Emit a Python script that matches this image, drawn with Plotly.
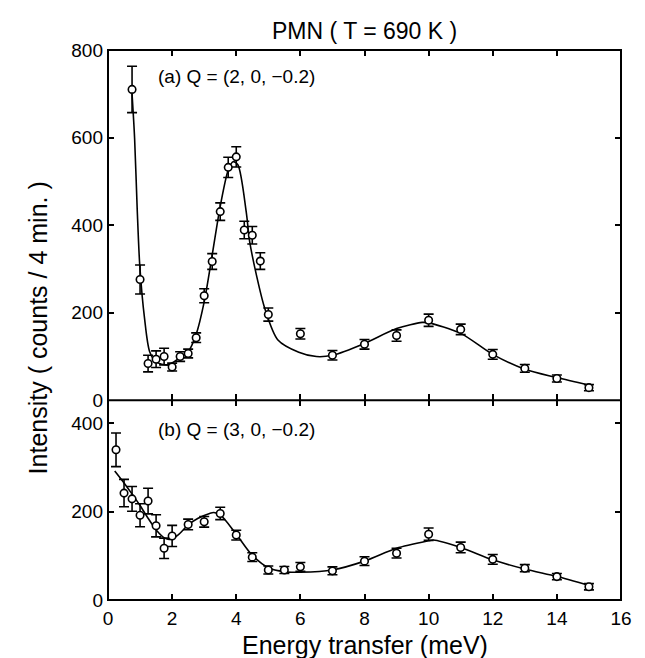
import plotly.graph_objects as go

# ---- data: panel (a) Q = (2, 0, -0.2) ----
a_energy = [0.75, 1.0, 1.25, 1.5, 1.75, 2.0, 2.25, 2.5, 2.75, 3.0, 3.25, 3.5, 3.75, 4.0,
            4.25, 4.5, 4.75, 5.0, 6.0, 7.0, 8.0, 9.0, 10.0, 11.0, 12.0, 13.0, 14.0, 15.0]
a_counts = [710, 276, 84, 94, 100, 76, 100, 107, 143, 239, 317, 431, 532, 556,
            389, 377, 318, 196, 152, 103, 128, 148, 183, 162, 105, 73, 50, 29]
a_err = [53, 33, 19, 19, 19, 9, 11, 10, 11, 16, 18, 20, 23, 23,
         20, 20, 19, 15, 12, 11, 11, 13, 14, 12, 11, 9, 8, 7]
a_fit_x = [0.75, 0.83, 0.91, 0.99, 1.14, 1.3, 1.5, 1.87, 2.25, 2.5, 2.75, 3.0, 3.25, 3.5,
           3.75, 3.9, 4.05, 4.31, 4.42, 4.63, 4.89, 5.3, 5.95, 6.5, 7.0, 8.0, 9.0, 9.8,
           10.0, 11.0, 12.0, 13.0, 14.0, 15.0]
a_fit_y = [700, 598, 438, 309, 187, 111, 88, 81, 98, 111, 151, 225, 332, 443,
           526, 545, 538, 431, 362, 286, 210, 138, 110, 100, 103, 130, 164, 178,
           177, 153, 105, 71, 52, 35]

# ---- data: panel (b) Q = (3, 0, -0.2) ----
b_energy = [0.25, 0.5, 0.75, 1.0, 1.25, 1.5, 1.75, 2.0, 2.5, 3.0, 3.5, 4.0, 4.5,
            5.0, 5.5, 6.0, 7.0, 8.0, 9.0, 10.0, 11.0, 12.0, 13.0, 14.0, 15.0]
b_counts = [340, 242, 229, 192, 224, 168, 117, 145, 171, 177, 196, 147, 97,
            68, 68, 75, 66, 88, 106, 149, 119, 92, 72, 53, 30]
b_err = [38, 31, 28, 26, 29, 25, 23, 24, 12, 12, 14, 11, 10,
         9, 8, 10, 9, 10, 11, 14, 12, 11, 8, 7, 7]
b_fit_x = [0.21, 0.5, 0.73, 0.99, 1.25, 1.51, 1.77, 1.92, 2.18, 2.5, 2.81, 3.17, 3.3,
           3.51, 3.98, 4.49, 5.0, 5.5, 6.0, 7.0, 8.0, 9.0, 10.0, 10.15, 11.0, 12.0,
           13.0, 14.0, 15.0]
b_fit_y = [292, 265, 242, 215, 185, 158, 140, 137, 147, 170, 185, 196, 198,
           192, 151, 102, 73, 64, 63, 68, 88, 117, 134, 136, 119, 91,
           70, 53, 33]

x_ticks = [0, 2, 4, 6, 8, 10, 12, 14, 16]
a_yticks = [0, 200, 400, 600, 800]
b_yticks = [0, 200, 400]

FONT = "Liberation Sans, Arial, Helvetica, sans-serif"
W, H = 645, 658
ML, MR, MT, MB = 100, 32, 41.5, 66.3
H_plot = H - MT - MB
W_plot = W - ML - MR


def px_x(p):
    return (p - ML) / W_plot


def px_y(p):
    return (H - MB - p) / H_plot


fig = go.Figure()


def add_panel(xv, yv, ev, fx, fy, xa, ya):
    fig.add_trace(go.Scatter(
        x=fx, y=fy, mode="lines", xaxis=xa, yaxis=ya,
        line=dict(color="black", width=1.6, shape="spline", smoothing=0.8),
        hoverinfo="skip", showlegend=False))
    fig.add_trace(go.Scatter(
        x=xv, y=yv, mode="markers", xaxis=xa, yaxis=ya,
        error_y=dict(type="data", array=ev, visible=True, color="black",
                     thickness=1.6, width=5),
        marker=dict(symbol="circle", size=7.5, color="white",
                    line=dict(color="black", width=1.6)),
        showlegend=False))


add_panel(b_energy, b_counts, b_err, b_fit_x, b_fit_y, "x", "y")
add_panel(a_energy, a_counts, a_err, a_fit_x, a_fit_y, "x2", "y2")

split = 0.363
axis_common = dict(showline=False, mirror="ticks",
                   ticks="inside", ticklen=6, tickwidth=1.5, tickcolor="black",
                   showgrid=False, zeroline=False,
                   tickfont=dict(family=FONT, size=19, color="black"))

fig.update_layout(
    width=W, height=H,
    margin=dict(l=ML, r=MR, t=MT, b=MB),
    paper_bgcolor="white", plot_bgcolor="white",
    font=dict(family=FONT, color="black"),
    xaxis=dict(domain=[0, 1], anchor="y", range=[0, 16], tickvals=x_ticks,
               ticklabelstandoff=5, **axis_common),
    yaxis=dict(domain=[0, split], anchor="x", range=[0, 452], tickvals=b_yticks,
               ticklabelstandoff=4, **axis_common),
    xaxis2=dict(domain=[0, 1], anchor="y2", range=[0, 16], tickvals=x_ticks,
                showticklabels=False, matches="x", **axis_common),
    yaxis2=dict(domain=[split, 1], anchor="x2", range=[0, 800], tickvals=a_yticks,
                ticklabelstandoff=4, **axis_common),
    shapes=[
        dict(type="rect", xref="paper", yref="paper", x0=0, x1=1, y0=0, y1=1,
             line=dict(color="black", width=2), layer="above"),
        dict(type="line", xref="paper", yref="paper", x0=0, x1=1, y0=split, y1=split,
             line=dict(color="black", width=2), layer="above"),
    ],
    annotations=[
        dict(text="PMN ( T = 690 K )", x=0.5, y=px_y(22), xref="paper", yref="paper",
             xanchor="center", yanchor="middle", showarrow=False,
             font=dict(family=FONT, size=23)),
        dict(text="Intensity ( counts / 4 min. )", x=px_x(30), y=px_y(320),
             xref="paper", yref="paper", xanchor="center", yanchor="middle",
             showarrow=False, textangle=-90, font=dict(family=FONT, size=25)),
        dict(text="Energy transfer (meV)", x=0.5, y=px_y(637),
             xref="paper", yref="paper", xanchor="center", yanchor="middle",
             showarrow=False, font=dict(family=FONT, size=25)),
        dict(text="(a) Q = (2, 0, \u22120.2)", x=1.5, y=740, xref="x2", yref="y2",
             xanchor="left", yanchor="middle", showarrow=False,
             font=dict(family=FONT, size=19)),
        dict(text="(b) Q = (3, 0, \u22120.2)", x=1.5, y=385, xref="x", yref="y",
             xanchor="left", yanchor="middle", showarrow=False,
             font=dict(family=FONT, size=19)),
    ],
)

fig.write_html("out.html")
